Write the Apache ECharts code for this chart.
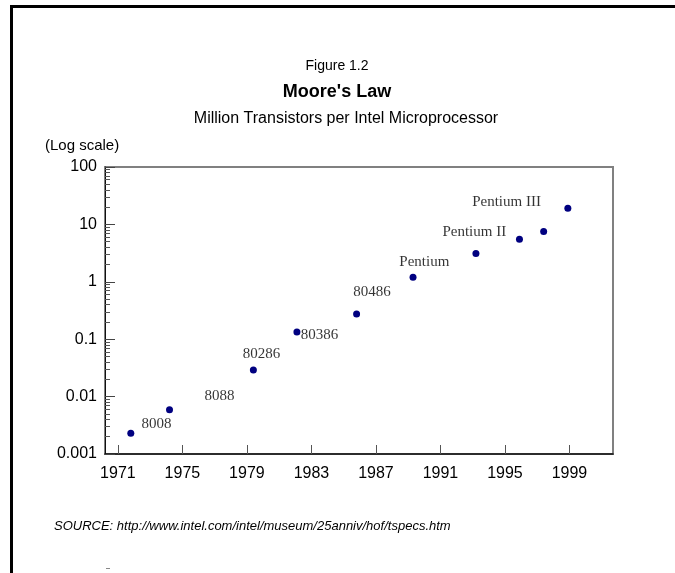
<!DOCTYPE html>
<html>
<head>
<meta charset="utf-8">
<script src="https://cdn.jsdelivr.net/npm/echarts@6/dist/echarts.min.js"></script>
<style>
  html, body { margin: 0; padding: 0; background: #fff; }
  #main { width: 675px; height: 573px; }
</style>
</head>
<body>
<div id="main"></div>
<script>
// 数据：年份与晶体管数量（百万）
var years = [1971.8, 1974.2, 1979.4, 1982.1, 1985.8, 1989.3, 1993.2, 1995.9, 1997.4, 1998.9];
var transistors = [0.0023, 0.0059, 0.029, 0.133, 0.275, 1.2, 3.1, 5.5, 7.5, 19.1];

// 处理器名称标注（位置按图上读取）
var chipNames = ['8008', '8088', '80286', '80386', '80486', 'Pentium', 'Pentium II', 'Pentium III'];
var chipYears = [1973.4, 1977.3, 1979.9, 1983.5, 1986.75, 1990.0, 1993.1, 1995.1];
var chipValues = [0.0033, 0.0101, 0.056, 0.12, 0.65, 2.24, 7.46, 24.9];

var xTicks = [1971, 1975, 1979, 1983, 1987, 1991, 1995, 1999];
var yMin = 0.001, yMax = 100;

// 对数轴的次刻度 2..9
var minorTicks = [];
for (var e = -3; e <= 1; e++) {
    for (var k = 2; k <= 9; k++) {
        minorTicks.push(+(k * Math.pow(10, e)).toPrecision(3));
    }
}

var sans = "'Liberation Sans', Arial, sans-serif";
var serif = "'Liberation Serif', 'Times New Roman', serif";

var myChart = echarts.init(document.getElementById('main'));
var option = {
    backgroundColor: '#fff',
    animation: false,
    graphic: [
        { type: 'rect', shape: { x: 10, y: 5, width: 700, height: 3 }, style: { fill: '#000' } },
        { type: 'rect', shape: { x: 10, y: 5, width: 3, height: 600 }, style: { fill: '#000' } },
        { type: 'rect', shape: { x: 106, y: 568, width: 4, height: 1 }, style: { fill: '#888' } },
        { type: 'text', x: 337, y: 66, style: { text: 'Figure 1.2', font: '14px ' + sans, fill: '#000', align: 'center', verticalAlign: 'middle' } },
        { type: 'text', x: 337, y: 92, style: { text: "Moore's Law", font: 'bold 18px ' + sans, fill: '#000', align: 'center', verticalAlign: 'middle' } },
        { type: 'text', x: 346, y: 119, style: { text: 'Million Transistors per Intel Microprocessor', font: '16px ' + sans, fill: '#000', align: 'center', verticalAlign: 'middle' } },
        { type: 'text', x: 45, y: 146, style: { text: '(Log scale)', font: '15px ' + sans, fill: '#000', align: 'left', verticalAlign: 'middle' } },
        { type: 'text', x: 54, y: 526, style: { text: 'SOURCE: http://www.intel.com/intel/museum/25anniv/hof/tspecs.htm', font: 'italic 13px ' + sans, fill: '#000', align: 'left', verticalAlign: 'middle' } }
    ],
    grid: {
        left: 105,
        top: 167,
        right: 62,
        bottom: 119,
        show: true,
        borderColor: '#808080',
        borderWidth: 2
    },
    xAxis: {
        type: 'value',
        min: 1970.2,
        max: 2001.7,
        splitLine: { show: false },
        axisLine: { lineStyle: { color: '#111', width: 1.5 } },
        axisTick: { inside: true, length: 9, customValues: xTicks, lineStyle: { color: '#555' } },
        axisLabel: {
            customValues: xTicks,
            margin: 12,
            color: '#000',
            fontSize: 16,
            fontFamily: sans,
            formatter: function (v) { return String(v); }
        }
    },
    yAxis: [
        {
            type: 'log',
            logBase: 10,
            min: yMin,
            max: yMax,
            splitLine: { show: false },
            axisLine: { show: true, lineStyle: { color: '#111', width: 1 } },
            axisTick: { inside: true, length: 10, lineStyle: { color: '#444' } },
            axisLabel: {
                margin: 8,
                color: '#000',
                fontSize: 16,
                fontFamily: sans,
                formatter: function (v) { return String(+v.toPrecision(3)); }
            }
        },
        {
            type: 'log',
            logBase: 10,
            min: yMin,
            max: yMax,
            position: 'left',
            splitLine: { show: false },
            axisLine: { show: false },
            axisLabel: { show: false },
            axisTick: { inside: true, length: 5, customValues: minorTicks, lineStyle: { color: '#555' } }
        }
    ],
    series: [
        {
            name: 'transistors',
            type: 'scatter',
            symbolSize: 7,
            itemStyle: { color: '#000080', opacity: 1 },
            data: years.map(function (y, i) { return [y, transistors[i]]; })
        },
        {
            name: 'chips',
            type: 'scatter',
            symbolSize: 1,
            itemStyle: { color: 'transparent' },
            label: {
                show: true,
                position: 'inside',
                formatter: function (p) { return p.value[2]; },
                color: '#000',
                fontSize: 15,
                fontFamily: serif
            },
            data: chipYears.map(function (y, i) { return [y, chipValues[i], chipNames[i]]; })
        }
    ]
};
myChart.setOption(option);
</script>
</body>
</html>
